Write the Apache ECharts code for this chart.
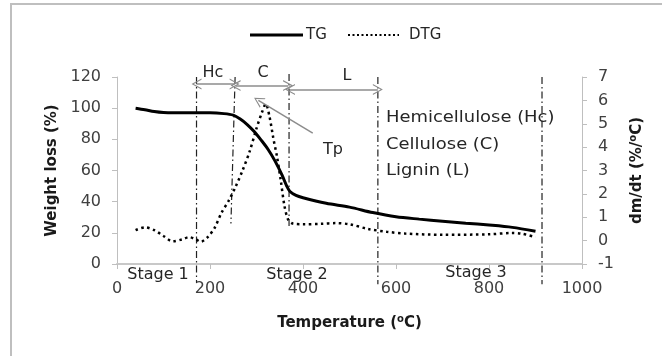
<!DOCTYPE html>
<html><head><meta charset="utf-8">
<script src="https://cdn.jsdelivr.net/npm/echarts@6/dist/echarts.min.js"></script>
<style>html,body{margin:0;padding:0;background:#fff}#c{width:662px;height:356px}</style>
</head><body><div id="c"></div>
<script>
// ---- data ----
const tgTemp = [40, 60, 80, 100, 150, 200, 230, 250, 265, 280, 295, 310, 325, 340, 355, 365, 372, 385, 400, 450, 500, 550, 600, 650, 700, 750, 800, 850, 900];
const tgVal  = [100, 99, 97.8, 97.2, 97, 97, 96.5, 95.5, 93, 89.5, 85, 79.5, 73.5, 66, 57, 50, 46.5, 44, 42.5, 39, 36.5, 33, 30.3, 28.8, 27.5, 26.2, 25, 23.5, 21];
const dtgTemp = [40, 60, 80, 100, 120, 140, 155, 170, 180, 195, 210, 225, 240, 255, 270, 285, 300, 312, 320, 328, 336, 344, 352, 360, 368, 378, 400, 440, 470, 500, 540, 580, 620, 700, 800, 850, 870, 900];
const dtgVal  = [0.45, 0.57, 0.45, 0.2, -0.03, 0.05, 0.15, 0.05, -0.05, 0.15, 0.55, 1.2, 1.7, 2.3, 3.0, 3.8, 4.8, 5.5, 5.85, 5.3, 4.4, 3.6, 2.6, 1.5, 0.9, 0.73, 0.7, 0.72, 0.75, 0.7, 0.5, 0.38, 0.3, 0.25, 0.27, 0.33, 0.3, 0.15];
const legendNames = ['TG', 'DTG'];
// stage boundaries (dash-dot vertical lines): [temp top, value top, temp bottom, value bottom]
const vLines = [[171, 120, 171, -12], [254, 120, 245, 26], [370, 122, 370, 24], [561, 120, 561, -13], [914, 120, 914, -13]];
// component range arrows: [from T, to T, level]
const rangeArrows = [[171, 253, 115.5], [255, 368, 114.5], [372, 561, 112]];
const tpArrow = [[421, 84], [304, 105]];

const FONT = '"DejaVu Sans", "Noto Sans", sans-serif';
const chart = echarts.init(document.getElementById('c'), null, {renderer: 'canvas'});

const chevron = 'path://M0,10 L5,0 L10,10 L8.8,10 L5,2.2 L1.2,10 Z';
const series = [
  {name: legendNames[0], type: 'line', yAxisIndex: 0, symbol: 'none', smooth: 0.3,
   data: tgTemp.map((t, i) => [t, tgVal[i]]),
   lineStyle: {color: '#000', width: 3}, itemStyle: {color: '#000'}, z: 5},
  {name: legendNames[1], type: 'line', yAxisIndex: 1, symbol: 'none', smooth: 0.3,
   data: dtgTemp.map((t, i) => [t, dtgVal[i]]),
   lineStyle: {color: '#000', width: 2.5, type: [2.5, 3.5]}, itemStyle: {color: '#000'}, z: 4}
];
vLines.forEach((v, i) => series.push({
  name: 'v' + i, type: 'line', yAxisIndex: 0, symbol: 'none', clip: false, silent: true,
  data: [[v[0], v[1]], [v[2], v[3]]],
  lineStyle: {color: '#222', width: 1.2, type: [7, 3, 1.5, 3]}, z: 3
}));
series.push({
  name: 'arrows', type: 'line', yAxisIndex: 0, data: [], silent: true,
  markLine: {
    silent: true, animation: false,
    symbol: [chevron, chevron], symbolSize: [11, 10],
    label: {show: false},
    lineStyle: {color: '#8c8c8c', width: 1.5, type: 'solid'},
    data: rangeArrows.map(a => [{coord: [a[0], a[2]]}, {coord: [a[1], a[2]]}]).concat([
      [{coord: tpArrow[0], symbol: 'none'}, {coord: tpArrow[1], symbol: chevron, symbolSize: [11, 10]}]
    ])
  }
});

const txt = (x, y, s, size, align, sx) => ({type: 'text', x: x, y: y, silent: true,
  scaleX: sx || 1, originX: 0, originY: 0,
  style: {text: s, font: size + 'px ' + FONT, fill: '#262626', align: align || 'center', verticalAlign: 'middle'}});

chart.setOption({
  animation: false,
  textStyle: {fontFamily: FONT},
  legend: {show: false, data: legendNames},
  grid: {left: 117, right: 80, top: 77, bottom: 92},
  xAxis: {
    type: 'value', min: 0, max: 1000, interval: 200,
    name: 'Temperature ({s|o}C)', nameLocation: 'middle', nameGap: 50,
    nameTextStyle: {fontSize: 15, fontWeight: 'bold', color: '#1a1a1a', fontFamily: FONT,
      rich: {s: {fontSize: 10, fontWeight: 'bold', verticalAlign: 'top', padding: [0, 0, 8, 0], color: '#1a1a1a', fontFamily: FONT}}},
    axisLine: {lineStyle: {color: '#c8c8c8', width: 2}},
    axisTick: {show: true, length: 5, lineStyle: {color: '#bfbfbf'}},
    axisLabel: {fontSize: 16, color: '#404040', margin: 17, fontFamily: FONT, formatter: v => String(v)},
    splitLine: {show: false}
  },
  yAxis: [{
    type: 'value', min: 0, max: 120, interval: 20, position: 'left',
    name: 'Weight loss (%)', nameLocation: 'middle', nameGap: 57, nameRotate: 90,
    nameTextStyle: {fontSize: 15, fontWeight: 'bold', color: '#1a1a1a', fontFamily: FONT},
    axisLine: {show: true, lineStyle: {color: '#bfbfbf'}},
    axisTick: {show: true, length: 5, lineStyle: {color: '#bfbfbf'}},
    axisLabel: {fontSize: 16, color: '#404040', margin: 16, fontFamily: FONT},
    splitLine: {show: false}
  }, {
    type: 'value', min: -1, max: 7, interval: 1, position: 'right',
    name: 'dm/dt (%/{s|o}C)', nameLocation: 'middle', nameGap: 46, nameRotate: 90,
    nameTextStyle: {fontSize: 15, fontWeight: 'bold', color: '#1a1a1a', fontFamily: FONT,
      rich: {s: {fontSize: 10, fontWeight: 'bold', verticalAlign: 'top', padding: [0, 0, 8, 0], color: '#1a1a1a', fontFamily: FONT}}},
    axisLine: {show: true, lineStyle: {color: '#bfbfbf'}},
    axisTick: {show: true, length: 5, lineStyle: {color: '#bfbfbf'}},
    axisLabel: {fontSize: 16, color: '#404040', margin: 16, fontFamily: FONT},
    splitLine: {show: false}
  }],
  series: series,
  graphic: [
    {type: 'rect', silent: true, shape: {x: 11, y: 4, width: 720, height: 420}, style: {fill: 'none', stroke: '#bfbfbf', lineWidth: 2}},
    // legend
    {type: 'line', silent: true, shape: {x1: 250, y1: 35, x2: 303, y2: 35}, style: {stroke: '#000', lineWidth: 3}},
    txt(306, 35, legendNames[0], 15, 'left'),
    {type: 'line', silent: true, shape: {x1: 348, y1: 35, x2: 399, y2: 35}, style: {stroke: '#000', lineWidth: 2, lineDash: [2, 2.5]}},
    txt(409, 35, legendNames[1], 15, 'left'),
    // annotations
    txt(213, 73, 'Hc', 16), txt(263, 73, 'C', 16), txt(347, 76, 'L', 16), txt(333, 150, 'Tp', 16),
    txt(386, 118, 'Hemicellulose (Hc)', 16, 'left', 1.12),
    txt(386, 145, 'Cellulose (C)', 16, 'left', 1.12),
    txt(386, 171, 'Lignin (L)', 16, 'left', 1.12),
    txt(158, 275, 'Stage 1', 16), txt(297, 275, 'Stage 2', 16), txt(476, 273, 'Stage 3', 16)
  ]
});
</script></body></html>
